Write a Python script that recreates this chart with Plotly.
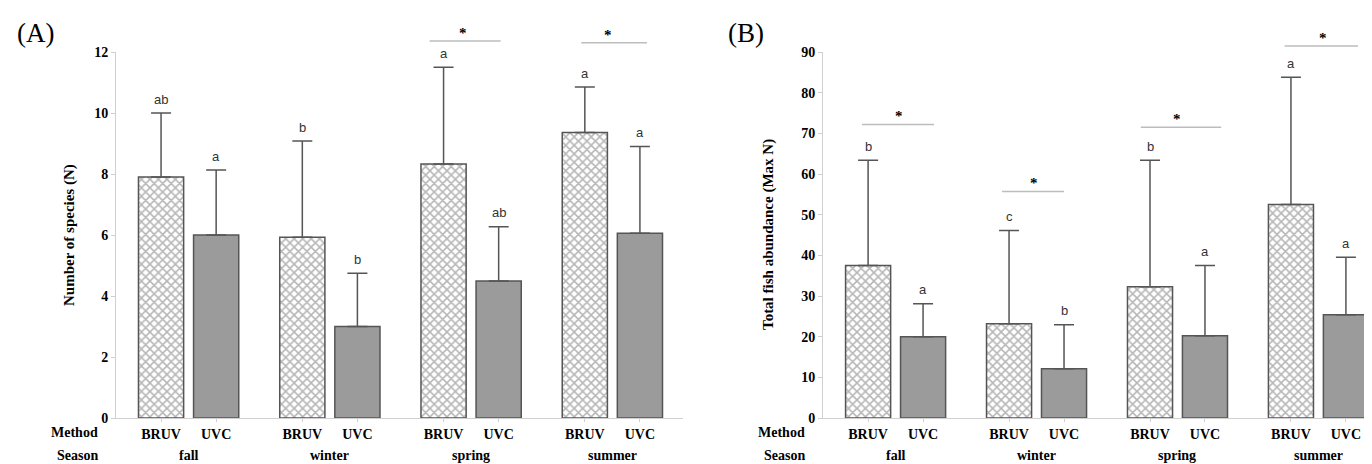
import plotly.graph_objects as go

seasons = ["fall", "winter", "spring", "summer"]
methods = ["BRUV", "UVC"]

# Panel A: Number of species (N)
a_bruv_mean = [7.9, 5.93, 8.33, 9.36]
a_bruv_sd = [2.1, 3.15, 3.17, 1.49]
a_uvc_mean = [6.0, 3.0, 4.49, 6.06]
a_uvc_sd = [2.13, 1.75, 1.78, 2.84]
a_bruv_letters = ["ab", "b", "a", "a"]
a_uvc_letters = ["a", "b", "ab", "a"]
# significance bars: start, end (x units), level (y units), star x
a_sig_x0 = [1.706, 2.78]
a_sig_x1 = [2.209, 3.245]
a_sig_y = [12.36, 12.3]
a_sig_star = [1.94, 2.97]
a_yticks = [0, 2, 4, 6, 8, 10, 12]

# Panel B: Total fish abundance (Max N)
b_bruv_mean = [37.5, 23.2, 32.3, 52.5]
b_bruv_sd = [25.9, 22.9, 31.1, 31.3]
b_uvc_mean = [20.0, 12.1, 20.2, 25.4]
b_uvc_sd = [8.1, 10.8, 17.3, 14.1]
b_bruv_letters = ["b", "c", "b", "a"]
b_uvc_letters = ["a", "b", "a", "a"]
b_sig_x0 = [-0.238, 0.755, 1.74, 2.76]
b_sig_x1 = [0.273, 1.195, 2.31, 3.28]
b_sig_y = [72.2, 55.7, 71.5, 91.5]
b_sig_star = [0.025, 0.98, 2.0, 3.03]
b_yticks = [0, 10, 20, 30, 40, 50, 60, 70, 80, 90]

BARGAP = 0.22
BARGROUPGAP = 0.18
OFFSET = (1 - BARGAP) / 4

SERIF = "Liberation Serif, Times New Roman, serif"
SANS = "Liberation Sans, Arial, sans-serif"
EDGE = "#555555"
UVC_FILL = "#9b9b9b"

# page body adds an 8px margin; figure is sized to fit inside the window
W, H = 1364, 456
MT, MB = 44, 46
PH = H - MT - MB

fig = go.Figure()
groups = list(range(len(seasons)))

panels = [
    dict(xa="x", ya="y", bm=a_bruv_mean, bs=a_bruv_sd, um=a_uvc_mean, us=a_uvc_sd,
         bl=a_bruv_letters, ul=a_uvc_letters, sx0=a_sig_x0, sx1=a_sig_x1, sy=a_sig_y,
         ss=a_sig_star, ymax=12, yt=a_yticks),
    dict(xa="x2", ya="y2", bm=b_bruv_mean, bs=b_bruv_sd, um=b_uvc_mean, us=b_uvc_sd,
         bl=b_bruv_letters, ul=b_uvc_letters, sx0=b_sig_x0, sx1=b_sig_x1, sy=b_sig_y,
         ss=b_sig_star, ymax=90, yt=b_yticks),
]

shapes = []
annotations = []
for p in panels:
    fig.add_trace(go.Bar(
        x=groups, y=p["bm"], name="BRUV", xaxis=p["xa"], yaxis=p["ya"],
        marker=dict(color="white", line=dict(color=EDGE, width=1.5),
                    pattern=dict(shape="x", fgcolor="#6e6e6e", bgcolor="white",
                                 size=6, solidity=0.45)),
        error_y=dict(type="data", symmetric=False, array=p["bs"],
                     arrayminus=[0] * len(groups), color=EDGE, thickness=1.5, width=10),
        showlegend=False,
    ))
    fig.add_trace(go.Bar(
        x=groups, y=p["um"], name="UVC", xaxis=p["xa"], yaxis=p["ya"],
        marker=dict(color=UVC_FILL, line=dict(color=EDGE, width=1.5)),
        error_y=dict(type="data", symmetric=False, array=p["us"],
                     arrayminus=[0] * len(groups), color=EDGE, thickness=1.5, width=10),
        showlegend=False,
    ))
    # letters above error bars
    for g in groups:
        for off, mean, sd, lab in ((-OFFSET, p["bm"], p["bs"], p["bl"]),
                                   (OFFSET, p["um"], p["us"], p["ul"])):
            annotations.append(dict(
                x=g + off, y=mean[g] + sd[g], xref=p["xa"], yref=p["ya"],
                text=lab[g], showarrow=False, yanchor="middle", yshift=14,
                font=dict(family=SANS, size=13, color="#333333")))
    # significance lines + stars
    for x0, x1, yv, xs in zip(p["sx0"], p["sx1"], p["sy"], p["ss"]):
        shapes.append(dict(type="line", xref=p["xa"], yref=p["ya"] + " domain",
                           x0=x0, x1=x1, y0=yv / p["ymax"], y1=yv / p["ymax"],
                           line=dict(color="#bdbdbd", width=1.5)))
        annotations.append(dict(x=xs, y=yv / p["ymax"], xref=p["xa"],
                                yref=p["ya"] + " domain", text="<b>*</b>", showarrow=False,
                                yanchor="middle", yshift=8,
                                font=dict(family=SERIF, size=15, color="black")))
    # season labels
    for g in groups:
        annotations.append(dict(x=g, y=0, xref=p["xa"], yref=p["ya"] + " domain",
                                text="<b>" + seasons[g] + "</b>", showarrow=False,
                                yanchor="middle", yshift=-37,
                                font=dict(family=SERIF, size=14, color="black")))
    for txt, ys in (("Method", -14), ("Season", -37)):
        annotations.append(dict(x=0, y=0, xref=p["xa"] + " domain", yref=p["ya"] + " domain",
                                text="<b>" + txt + "</b>", showarrow=False, xanchor="right",
                                yanchor="middle", xshift=-16, yshift=ys,
                                font=dict(family=SERIF, size=14, color="black")))

# y-axis titles and panel tags
annotations.append(dict(x=0, y=0.5, xref="x domain", yref="y domain", xshift=-47,
                        xanchor="center", yanchor="middle",
                        text="<b>Number of species (N)</b>", textangle=-90, showarrow=False,
                        font=dict(family=SERIF, size=15, color="black")))
annotations.append(dict(x=0, y=0.5, xref="x2 domain", yref="y2 domain", xshift=-55,
                        xanchor="center", yanchor="middle",
                        text="<b>Total fish abundance (Max N)</b>", textangle=-90,
                        showarrow=False, font=dict(family=SERIF, size=15, color="black")))
annotations.append(dict(x=27 / W, y=1 + (MT - 25) / PH, xref="paper", yref="paper",
                        xanchor="center", yanchor="middle",
                        text="(A)", showarrow=False,
                        font=dict(family=SERIF, size=27, color="black")))
annotations.append(dict(x=738 / W, y=1 + (MT - 25) / PH, xref="paper", yref="paper",
                        xanchor="center", yanchor="middle",
                        text="(B)", showarrow=False,
                        font=dict(family=SERIF, size=27, color="black")))

tickvals = []
ticktext = []
for g in groups:
    tickvals += [g - OFFSET, g + OFFSET]
    ticktext += ["<b>BRUV</b>", "<b>UVC</b>"]

xcommon = dict(tickvals=tickvals, ticktext=ticktext, showline=True, linecolor="#d0d0d0",
               linewidth=1, ticks="outside", ticklen=3, tickcolor="#d0d0d0",
               showgrid=False, zeroline=False,
               tickfont=dict(family=SERIF, size=14, color="black"))
ycommon = dict(showline=True, linecolor="#d0d0d0", linewidth=1, ticks="outside",
               ticklen=4, tickcolor="#d0d0d0", showgrid=False, zeroline=False,
               tickfont=dict(family=SERIF, size=14, color="black"))

fig.update_layout(
    width=W, height=H,
    margin=dict(l=0, r=0, t=MT, b=MB),
    paper_bgcolor="white", plot_bgcolor="white",
    barmode="group", bargap=BARGAP, bargroupgap=BARGROUPGAP,
    xaxis=dict(domain=[108 / W, 675 / W], range=[-0.514, 3.5], **xcommon),
    yaxis=dict(range=[0, 12], tickvals=a_yticks,
               ticktext=["<b>%d</b>" % v for v in a_yticks], **ycommon),
    xaxis2=dict(domain=[815 / W, 1.0], range=[-0.515, 3.38], anchor="y2", **xcommon),
    yaxis2=dict(range=[0, 90], tickvals=b_yticks, anchor="x2",
                ticktext=["<b>%d</b>" % v for v in b_yticks], **ycommon),
    shapes=shapes,
    annotations=annotations,
)

fig.write_html("out.html")
